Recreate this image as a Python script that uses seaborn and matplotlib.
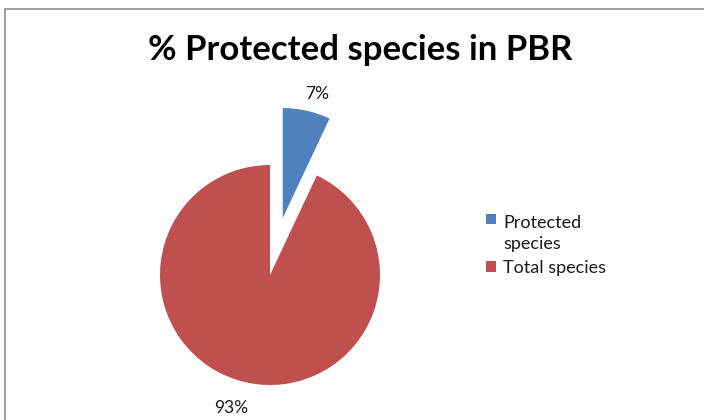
import numpy as np
import matplotlib
matplotlib.use("Agg")
import matplotlib.pyplot as plt
import seaborn as sns
from matplotlib.patches import Rectangle, Patch

categories = ["Protected species", "Total species"]
values = [7, 93]
pct_labels = ["7%", "93%"]
legend_labels = ["Protected\nspecies", "Total species"]
colors = ["#4F81BD", "#C0504D"]
explode = [0.53, 0.0]

sns.set_theme(style="white")
plt.rcParams['font.family'] = ['Lato', 'DejaVu Sans']

W, H = 704, 420
fig = plt.figure(figsize=(W/100, H/100), dpi=100)

# pie axes: center (270,275) px from top, radius 110 px
cx, cy, r = 270, 275, 110
ax = fig.add_axes([(cx - r)/W, (H - cy - r)/H, 2*r/W, 2*r/H])
wedges, _ = ax.pie(values, colors=colors, explode=explode, startangle=90,
                   counterclock=False, radius=1.0,
                   wedgeprops=dict(linewidth=0, clip_on=False))
ax.set_xlim(-1, 1); ax.set_ylim(-1, 1)
ax.set_aspect('equal')
ax.axis('off')

label_dist = [1.17, 1.26]
label_dang = [-3.0, -3.5]
for w, lab, ex, d, da in zip(wedges, pct_labels, explode, label_dist, label_dang):
    mid = np.deg2rad((w.theta1 + w.theta2) / 2)
    ang = np.deg2rad((w.theta1 + w.theta2) / 2 + da)
    x = ex * np.cos(mid) + d * np.cos(ang)
    y = ex * np.sin(mid) + d * np.sin(ang)
    ax.text(x, y, lab, ha='center', va='center', fontsize=12.5, color='#1a1a1a',
            clip_on=False)

fig.text(360/W, 1 - 50/H, "% Protected species in PBR", ha='center', va='center',
         fontsize=25, fontweight='bold', color='black')

handles = [Patch(facecolor=c, edgecolor='none') for c in colors]
leg = fig.legend(handles, legend_labels, loc='upper left',
                 bbox_to_anchor=(470/W, 1 - 199/H), frameon=False,
                 fontsize=13, handlelength=0.55, handleheight=0.55,
                 handletextpad=0.4, labelspacing=0.45)
for t in leg.get_texts():
    t.set_color('#1a1a1a')
    t.set_linespacing(1.35)
# align the first marker with the first line of its two-line label
h0 = leg.legend_handles[0]
h0.set_y(h0.get_y() + 10.5)

fig.patches.append(Rectangle((5/W, -0.05), 1.1, 1.05 - 9/H, transform=fig.transFigure,
                             fill=False, edgecolor='#8c8c8c', linewidth=1.2))

fig.savefig("out.png", dpi=100)
